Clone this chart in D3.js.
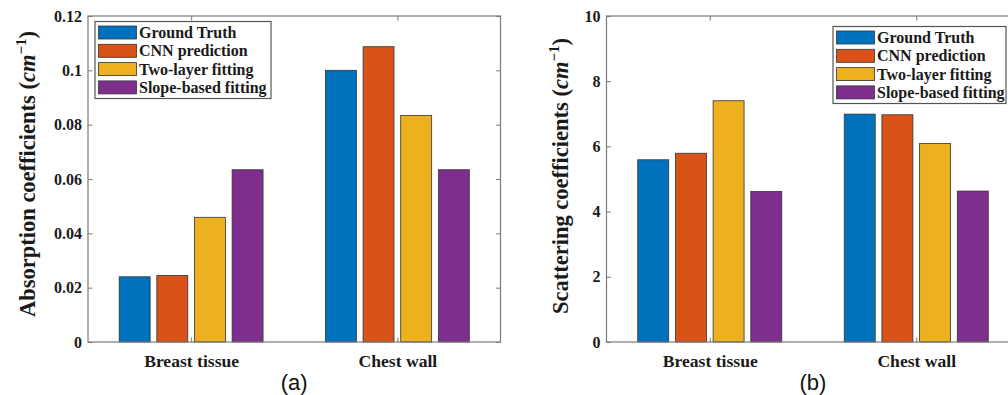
<!DOCTYPE html>
<html><head><meta charset="utf-8">
<script src="https://cdn.jsdelivr.net/npm/d3@7"></script>
<style>body{margin:0;background:#fff}svg{display:block}</style>
</head><body>
<svg id="c" width="1008" height="395"></svg>
<script>
const categories = ["Breast tissue", "Chest wall"];
const seriesNames = ["Ground Truth", "CNN prediction", "Two-layer fitting", "Slope-based fitting"];
const seriesColors = ["#0072BD", "#D95319", "#EDB120", "#7E2F8E"];
// values[series][category]
const absorption = [[0.0240, 0.1000], [0.0245, 0.1087], [0.0459, 0.0834], [0.0634, 0.0634]];
const scattering = [[5.59, 6.99], [5.79, 6.97], [7.40, 6.09], [4.62, 4.63]];
const absTicks = [0, 0.02, 0.04, 0.06, 0.08, 0.1, 0.12];
const absTickLabels = ["0", "0.02", "0.04", "0.06", "0.08", "0.1", "0.12"];
const scaTicks = [0, 2, 4, 6, 8, 10];
const scaTickLabels = ["0", "2", "4", "6", "8", "10"];
const absLabel = "Absorption coefficients";
const scaLabel = "Scattering coefficients";
const panelTags = ["(a)", "(b)"];

const svg = d3.select("#c");
const serif = "'Liberation Serif','Times New Roman',serif";
const axisColor = "#7a7a7a";

function panel(o) {
  const g = svg.append("g");
  const x = d3.scaleLinear().domain([0.5, 2.5]).range([o.x0, o.x1]);
  const y = d3.scaleLinear().domain([0, o.ymax]).range([o.yb, o.yt]);
  const nS = seriesNames.length;
  const slot = 0.1825, barW = 0.150;
  o.data.forEach((vals, si) => {
    g.selectAll(null).data(vals).enter().append("rect")
      .attr("x", (d, ci) => x(ci + 1 + (si - (nS - 1) / 2) * slot - barW / 2))
      .attr("width", x(1 + barW) - x(1))
      .attr("y", d => y(d))
      .attr("height", d => y(0) - y(d))
      .attr("fill", seriesColors[si])
      .attr("stroke", "#333").attr("stroke-width", 0.8);
  });
  const left = d3.axisLeft(y).tickValues(o.ticks).tickSize(-4.5).tickFormat((d, i) => o.tickLabels[i]).tickPadding(6);
  const right = d3.axisRight(y).tickValues(o.ticks).tickSize(-4.5).tickFormat("");
  const bottom = d3.axisBottom(x).tickValues([1, 2]).tickSize(-4.5).tickFormat((d, i) => categories[i]).tickPadding(13);
  const top = d3.axisTop(x).tickValues([1, 2]).tickSize(-4.5).tickFormat("");
  const axes = [
    g.append("g").attr("transform", `translate(${o.x0},0)`).call(left),
    g.append("g").attr("transform", `translate(${o.x1},0)`).call(right),
    g.append("g").attr("transform", `translate(0,${o.yb})`).call(bottom),
    g.append("g").attr("transform", `translate(0,${o.yt})`).call(top)
  ];
  axes.forEach(a => {
    a.select(".domain").remove();
    a.selectAll(".tick line").attr("stroke", axisColor);
    a.selectAll("text").attr("font-family", serif).attr("font-weight", "bold").attr("fill", "#1a1a1a");
  });
  g.append("rect").attr("x", o.x0).attr("y", o.yt).attr("width", o.x1 - o.x0).attr("height", o.yb - o.yt)
    .attr("fill", "none").attr("stroke", axisColor).attr("stroke-width", 1.2);
  axes[0].selectAll("text").attr("font-size", 16);
  axes[2].selectAll("text").attr("font-size", 17.6);
  const lab = g.append("text").attr("transform", `translate(${o.labX},${o.labY}) rotate(-90)`)
    .attr("text-anchor", "middle").attr("font-family", serif).attr("font-weight", "bold")
    .attr("font-size", 22.5).attr("fill", "#1a1a1a");
  lab.append("tspan").text(o.label + " (");
  lab.append("tspan").attr("font-style", "italic").text("cm");
  lab.append("tspan").attr("font-size", 15).attr("dy", -9).text("\u22121");
  lab.append("tspan").attr("dy", 9).text(")");
  g.append("text").attr("x", (o.x0 + o.x1) / 2).attr("y", 390).attr("text-anchor", "middle")
    .attr("font-family", "'Liberation Sans',Arial,sans-serif").attr("font-size", 22).attr("fill", "#111")
    .text(o.tag);
  const lg = g.append("g").attr("transform", `translate(${o.legX},${o.legY})`);
  lg.append("rect").attr("width", o.legW).attr("height", 77).attr("fill", "#fff")
    .attr("stroke", "#555").attr("stroke-width", 1.2);
  seriesNames.forEach((s, i) => {
    lg.append("rect").attr("x", 3.5).attr("y", 4.5 + i * 18.3).attr("width", 38).attr("height", 13)
      .attr("fill", seriesColors[i]).attr("stroke", "#333").attr("stroke-width", 0.8);
    lg.append("text").attr("x", 44).attr("y", 16.5 + i * 18.3).attr("font-family", serif)
      .attr("font-weight", "bold").attr("font-size", 16).attr("fill", "#1a1a1a").text(s);
  });
}

panel({x0: 88, x1: 500.5, yt: 16, yb: 342, ymax: 0.12, data: absorption, ticks: absTicks,
  tickLabels: absTickLabels, label: absLabel, labX: 35, labY: 174, tag: panelTags[0],
  legX: 95, legY: 21.5, legW: 176});
panel({x0: 606.5, x1: 1019.5, yt: 16, yb: 342, ymax: 10, data: scattering, ticks: scaTicks,
  tickLabels: scaTickLabels, label: scaLabel, labX: 568, labY: 176, tag: panelTags[1],
  legX: 833, legY: 26.5, legW: 173});
</script>
</body></html>
